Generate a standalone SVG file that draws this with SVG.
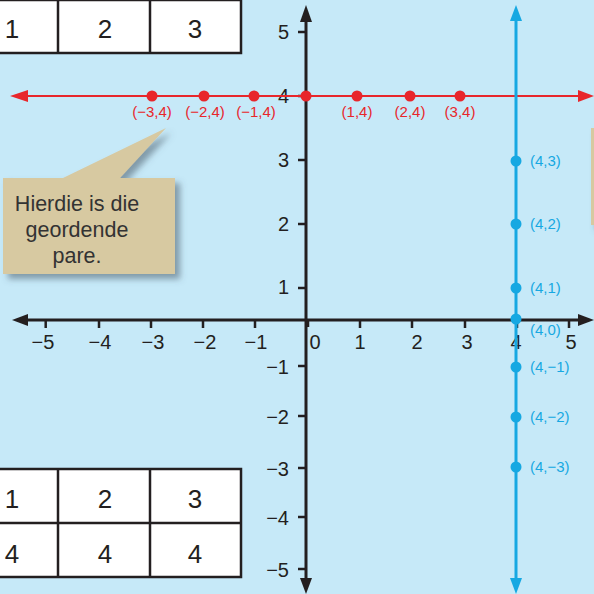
<svg xmlns="http://www.w3.org/2000/svg" width="594" height="594" viewBox="0 0 594 594">
<defs>
<style>
.ax{stroke:#231f20;stroke-width:3;fill:none}
.tk{stroke:#231f20;stroke-width:2.5}
.lbl{font-family:"Liberation Sans",Arial,sans-serif;font-size:20px;fill:#231f20}
.xl{text-anchor:middle}
.yl{text-anchor:end}
.red{stroke:#e8262b;stroke-width:2;fill:none}
.rdot{fill:#e8262b}
.rl{font-family:"Liberation Sans",Arial,sans-serif;font-size:15px;fill:#e8262b;text-anchor:middle}
.blue{stroke:#16a8e2;stroke-width:3;fill:none}
.bdot{fill:#16a8e2}
.bl{font-family:"Liberation Sans",Arial,sans-serif;font-size:15px;fill:#16a8e2}
.cell{fill:#ffffff;stroke:#231f20;stroke-width:2.5}
.tl{font-family:"Liberation Sans",Arial,sans-serif;font-size:26px;fill:#231f20;text-anchor:middle}
.ct{font-family:"Liberation Sans",Arial,sans-serif;font-size:21.5px;fill:#333333;text-anchor:middle}
</style>
<filter id="sh" x="-20%" y="-20%" width="150%" height="150%">
<feDropShadow dx="5" dy="5" stdDeviation="3" flood-color="#4a5a66" flood-opacity="0.55"/>
</filter>
</defs>
<rect width="594" height="594" fill="#c6e9f8"/>

<g id="table-top">
<rect class="cell" x="-5" y="0" width="246" height="53"/>
<line class="cell" x1="58" y1="0" x2="58" y2="53"/>
<line class="cell" x1="150" y1="0" x2="150" y2="53"/>
<text class="tl" x="12" y="38">1</text>
<text class="tl" x="105" y="38">2</text>
<text class="tl" x="195" y="38">3</text>
</g>

<g id="table-bottom">
<rect class="cell" x="-5" y="469" width="246" height="108"/>
<line class="cell" x1="-5" y1="523" x2="241" y2="523"/>
<line class="cell" x1="58" y1="469" x2="58" y2="577"/>
<line class="cell" x1="150" y1="469" x2="150" y2="577"/>
<text class="tl" x="12" y="508">1</text>
<text class="tl" x="105" y="508">2</text>
<text class="tl" x="195" y="508">3</text>
<text class="tl" x="12" y="563">4</text>
<text class="tl" x="105" y="563">4</text>
<text class="tl" x="195" y="563">4</text>
</g>

<g id="callout">
<path d="M3,178 L63,178 L166,128 L120,178 L175,178 L175,274 L3,274 Z" fill="#d7c9a1" filter="url(#sh)"/>
<text class="ct" x="77" y="211">Hierdie is die</text>
<text class="ct" x="77" y="237">geordende</text>
<text class="ct" x="77" y="263">pare.</text>
</g>

<g id="callout-right">
<rect x="591" y="128" width="10" height="97" fill="#d7c9a1" filter="url(#sh)"/>
</g>

<g id="axes">
<line class="ax" x1="24" y1="320" x2="582" y2="320"/>
<polygon points="12,320 28,314 28,326" fill="#231f20"/>
<polygon points="594,320 578,314 578,326" fill="#231f20"/>
<line class="ax" x1="306" y1="18" x2="306" y2="582"/>
<polygon points="306,5 300,22 312,22" fill="#231f20"/>
<polygon points="306,594 300,578 312,578" fill="#231f20"/>
<g class="tk">
<line x1="45.7" y1="320" x2="45.7" y2="328"/>
<line x1="99" y1="320" x2="99" y2="328"/>
<line x1="151" y1="320" x2="151" y2="328"/>
<line x1="203" y1="320" x2="203" y2="328"/>
<line x1="255" y1="320" x2="255" y2="328"/>
<line x1="308" y1="320" x2="308" y2="327"/>
<line x1="360" y1="320" x2="360" y2="328"/>
<line x1="412" y1="320" x2="412" y2="328"/>
<line x1="465" y1="320" x2="465" y2="328"/>
<line x1="517" y1="320" x2="517" y2="328"/>
<line x1="569" y1="320" x2="569" y2="328"/>
<line x1="298" y1="32" x2="306" y2="32"/>
<line x1="298" y1="96" x2="306" y2="96"/>
<line x1="298" y1="160" x2="306" y2="160"/>
<line x1="298" y1="224" x2="306" y2="224"/>
<line x1="298" y1="288" x2="306" y2="288"/>
<line x1="298" y1="366" x2="306" y2="366"/>
<line x1="298" y1="416" x2="306" y2="416"/>
<line x1="298" y1="468" x2="306" y2="468"/>
<line x1="298" y1="517" x2="306" y2="517"/>
<line x1="298" y1="569" x2="306" y2="569"/>
</g>
<text class="lbl xl" x="43" y="349">−5</text>
<text class="lbl xl" x="100" y="349">−4</text>
<text class="lbl xl" x="153" y="349">−3</text>
<text class="lbl xl" x="205" y="349">−2</text>
<text class="lbl xl" x="256" y="349">−1</text>
<text class="lbl xl" x="315" y="349">0</text>
<text class="lbl xl" x="360" y="349">1</text>
<text class="lbl xl" x="417" y="349">2</text>
<text class="lbl xl" x="467" y="349">3</text>
<text class="lbl xl" x="516" y="349">4</text>
<text class="lbl xl" x="571" y="349">5</text>
<text class="lbl yl" x="289" y="39">5</text>
<text class="lbl yl" x="289" y="103">4</text>
<text class="lbl yl" x="289" y="167">3</text>
<text class="lbl yl" x="289" y="231">2</text>
<text class="lbl yl" x="289" y="294">1</text>
<text class="lbl yl" x="289" y="374">−1</text>
<text class="lbl yl" x="289" y="424">−2</text>
<text class="lbl yl" x="289" y="476">−3</text>
<text class="lbl yl" x="289" y="525">−4</text>
<text class="lbl yl" x="289" y="577">−5</text>
</g>

<g id="connectors">
<g id="red-line">
<line class="red" x1="22" y1="96" x2="582" y2="96"/>
<polygon points="10,96 28,90 28,102" fill="#e8262b"/>
<polygon points="594,96 578,90 578,102" fill="#e8262b"/>
</g>
<g id="blue-line">
<line class="blue" x1="516" y1="18" x2="516" y2="582"/>
<polygon points="516,5 510,21 522,21" fill="#16a8e2"/>
<polygon points="516,594 510,578 522,578" fill="#16a8e2"/>
</g>
</g>

<g id="red-points">
<circle class="rdot" cx="152" cy="96" r="5.5"/>
<circle class="rdot" cx="204" cy="96" r="5.5"/>
<circle class="rdot" cx="254" cy="96" r="5.5"/>
<circle class="rdot" cx="306" cy="96" r="5.5"/>
<circle class="rdot" cx="357" cy="96" r="5.5"/>
<circle class="rdot" cx="410" cy="96" r="5.5"/>
<circle class="rdot" cx="460" cy="96" r="5.5"/>
<text class="rl" x="152" y="117">(−3,4)</text>
<text class="rl" x="205" y="117">(−2,4)</text>
<text class="rl" x="256" y="117">(−1,4)</text>
<text class="rl" x="357" y="117">(1,4)</text>
<text class="rl" x="410" y="117">(2,4)</text>
<text class="rl" x="460" y="117">(3,4)</text>
</g>

<g id="blue-points">
<circle class="bdot" cx="516" cy="161" r="5.5"/>
<circle class="bdot" cx="516" cy="224" r="5.5"/>
<circle class="bdot" cx="516" cy="288" r="5.5"/>
<circle class="bdot" cx="516" cy="319" r="5.5"/>
<circle class="bdot" cx="516" cy="367" r="5.5"/>
<circle class="bdot" cx="516" cy="417" r="5.5"/>
<circle class="bdot" cx="516" cy="467" r="5.5"/>
<text class="bl" x="530" y="166">(4,3)</text>
<text class="bl" x="530" y="229">(4,2)</text>
<text class="bl" x="530" y="293">(4,1)</text>
<text class="bl" x="530" y="335">(4,0)</text>
<text class="bl" x="530" y="372">(4,−1)</text>
<text class="bl" x="530" y="422">(4,−2)</text>
<text class="bl" x="530" y="472">(4,−3)</text>
</g>
</svg>
